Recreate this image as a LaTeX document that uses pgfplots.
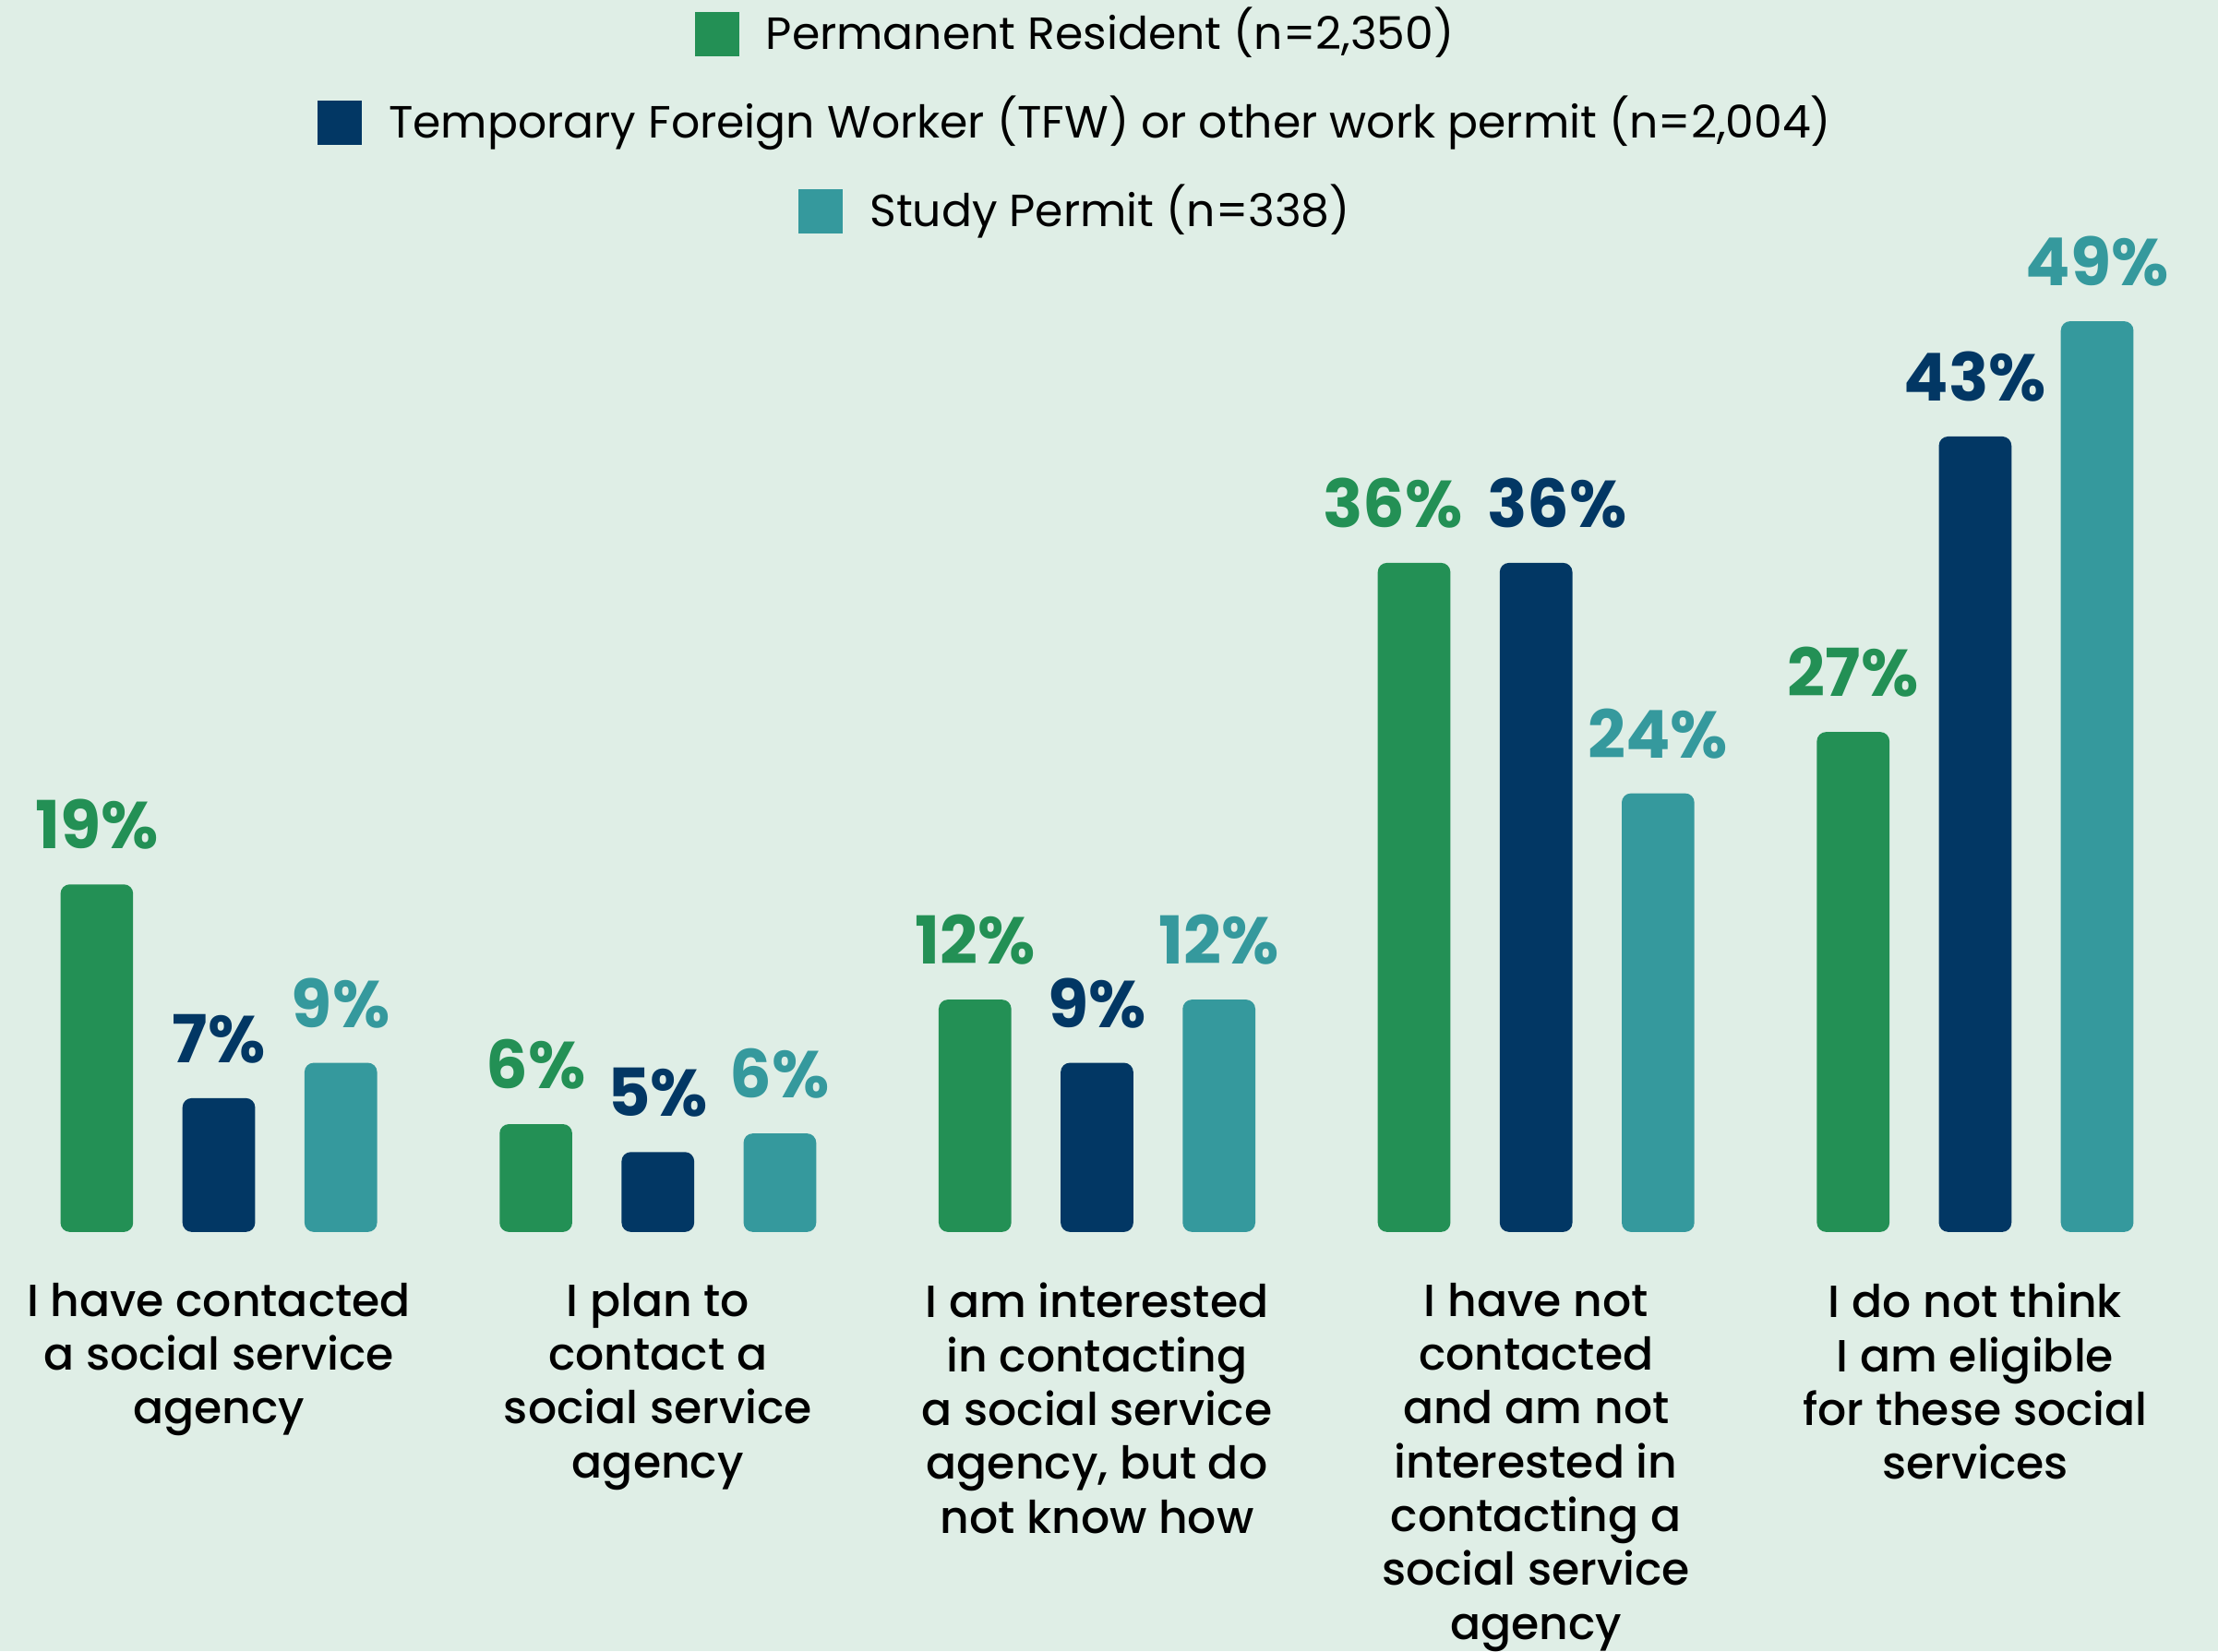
\documentclass[border=0pt]{standalone}
\usepackage{fontspec}
\setmainfont{Poppins}
\newfontfamily\pmed{Poppins Medium}
\newfontfamily\pbold{Poppins Bold}
\usepackage{pgfplots}
\pgfplotsset{compat=1.18}

\definecolor{bgc}{HTML}{DFEEE6}
\definecolor{cpr}{HTML}{239055}
\definecolor{ctfw}{HTML}{023764}
\definecolor{csp}{HTML}{35999D}

\begin{document}
\begin{tikzpicture}
\fill[bgc] (0.2pt,-113.4pt) rectangle (600.2pt,333.3pt);
\begin{axis}[
    scale only axis,
    width=593.9pt, height=301.7pt,
    xmin=-0.5, xmax=4.5, ymin=0, ymax=60,
    axis line style={draw=none},
    ytick=\empty,
    ybar=13.35pt,
    bar width=19.65pt,
    xtick={0,1,2,3,4},
    xticklabels={
        {I have contacted\\a social service\\agency},
        {I plan to\\contact a\\social service\\agency},
        {I am interested\\in contacting\\a social service\\agency, but do\\not know how},
        {I have not\\contacted\\and am not\\interested in\\contacting a\\social service\\agency},
        {I do not think\\I am eligible\\for these social\\services}},
    xticklabel style={align=center, anchor=north, inner sep=0pt, yshift=-13.6pt,
        font=\pmed\fontsize{12.2}{14.56}\selectfont},
    major tick length=0pt,
    point meta=explicit symbolic,
    nodes near coords,
    nodes near coords style={anchor=base, inner sep=0pt, yshift=9.6pt,
        font=\pbold\fontsize{17.9}{20}\selectfont},
    legend image code/.code={},
    legend cell align=center,
    legend style={at={(axis cs:1.949,65.64)}, anchor=north, draw=none, fill=none,
        inner sep=0pt, outer sep=0pt, row sep=11pt, column sep=0pt,
        nodes={inner sep=0pt, text height=10pt, text depth=3pt,
            font=\fontsize{12.2}{14.56}\selectfont}},
]
\addplot[cpr, fill=cpr, draw=none, rounded corners=2.5pt] coordinates {
    (0,18.7) [19\%] (1,5.8) [6\%] (2,12.5) [12\%] (3,36.0) [36\%\kern11.5pt] (4,26.9) [27\%]};
\addplot[ctfw, fill=ctfw, draw=none, rounded corners=2.5pt] coordinates {
    (0,7.2) [7\%] (1,4.3) [5\%] (2,9.1) [9\%] (3,36.0) [\kern11.5pt36\%] (4,42.8) [43\%]};
\addplot[csp, fill=csp, draw=none, rounded corners=2.5pt] coordinates {
    (0,9.1) [9\%] (1,5.3) [6\%] (2,12.5) [12\%] (3,23.6) [24\%] (4,49.0) [49\%]};
\addlegendentry{\textcolor{cpr}{\rule[-2pt]{12pt}{12pt}}\hspace{7.2pt}Permanent Resident (n=2,350)}
\addlegendentry{\textcolor{ctfw}{\rule[-2pt]{12pt}{12pt}}\hspace{7.2pt}Temporary Foreign Worker (TFW) or other work permit (n=2,004)}
\addlegendentry{\textcolor{csp}{\rule[-2pt]{12pt}{12pt}}\hspace{7.2pt}Study Permit (n=338)}
\end{axis}
\pgfresetboundingbox
\path[use as bounding box] (0.2pt,-113.4pt) rectangle (600.2pt,333.3pt);
\end{tikzpicture}
\end{document}
